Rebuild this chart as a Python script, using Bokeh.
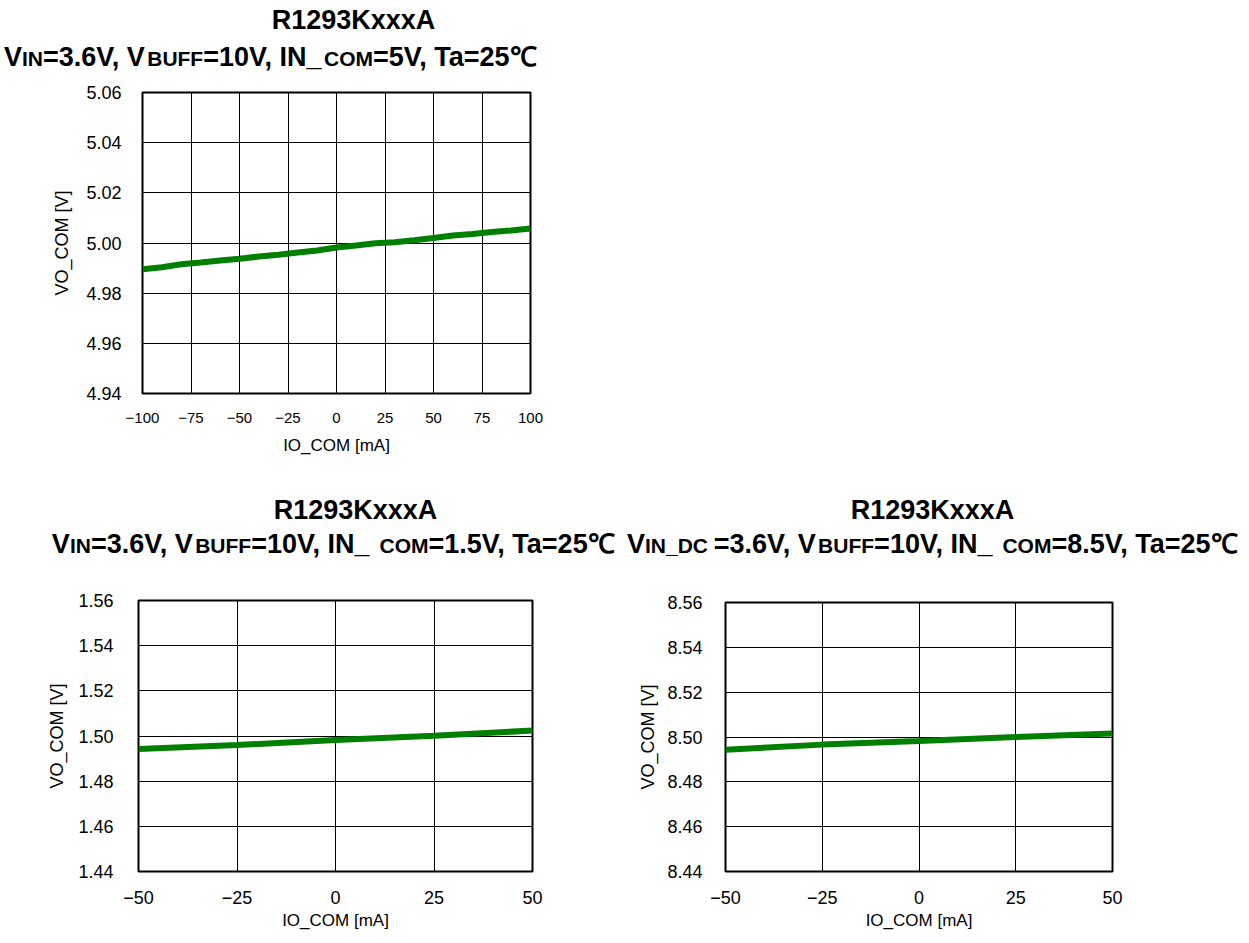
from bokeh.plotting import figure
from bokeh.models import Range1d, FixedTicker, ColumnDataSource
from bokeh.layouts import column, row
from bokeh.core.properties import value
from bokeh.embed import file_html
from bokeh.resources import INLINE

# ---------------- data ----------------
top_io = [-100, -90, -80, -70, -60, -50, -40, -30, -20, -10, 0, 10, 20, 30, 40, 50, 60, 70, 80, 90, 100]
top_vo = [4.9895, 4.9903, 4.9915, 4.9922, 4.9930, 4.9937, 4.9946, 4.9953, 4.9962, 4.9970, 4.9982,
          4.9990, 4.9999, 5.0003, 5.0011, 5.0020, 5.0030, 5.0036, 5.0044, 5.0050, 5.0058]

bl_io = [-50, -25, 0, 25, 50]
bl_vo = [1.4942, 1.4960, 1.4982, 1.5001, 1.5024]

br_io = [-50, -25, 0, 25, 50]
br_vo = [8.4943, 8.4966, 8.4982, 8.5000, 8.5016]

top_xticks = [-100, -75, -50, -25, 0, 25, 50, 75, 100]
top_xlabels = ["\u2212100", "\u221275", "\u221250", "\u221225", "0", "25", "50", "75", "100"]
top_yticks = [4.94, 4.96, 4.98, 5.00, 5.02, 5.04, 5.06]
top_ylabels = ["4.94", "4.96", "4.98", "5.00", "5.02", "5.04", "5.06"]

bot_xticks = [-50, -25, 0, 25, 50]
bot_xlabels = ["\u221250", "\u221225", "0", "25", "50"]
bl_yticks = [1.44, 1.46, 1.48, 1.50, 1.52, 1.54, 1.56]
bl_ylabels = ["1.44", "1.46", "1.48", "1.50", "1.52", "1.54", "1.56"]
br_yticks = [8.44, 8.46, 8.48, 8.50, 8.52, 8.54, 8.56]
br_ylabels = ["8.44", "8.46", "8.48", "8.50", "8.52", "8.54", "8.56"]

title_text = "R1293KxxxA"
# (text, is_small, extra gap after it in em of its size)
top_sub = [("V", 0), ("IN", 1), ("=3.6V, V", 0), ("BUFF", 1), ("=10V, IN_", 0), ("COM", 1), ("=5V, Ta=25\u2103", 0)]
bl_sub = [("V", 0), ("IN", 1), ("=3.6V, V", 0), ("BUFF", 1), ("=10V, IN_ ", 0), ("COM", 1), ("=1.5V, Ta=25\u2103", 0)]
br_sub = [("V", 0), ("IN_DC ", 1), ("=3.6V, V", 0), ("BUFF", 1), ("=10V, IN_ ", 0), ("COM", 1), ("=8.5V, Ta=25\u2103", 0)]

x_label = "IO_COM [mA]"
y_label = "VO_COM [V]"

GREEN = "#008000"
FONT = "Liberation Sans"

# Liberation Sans Bold advance widths (per em)
W = {' ': .278, ',': .278, '.': .278, '=': .584, '_': .556, 'A': .722, 'B': .722, 'C': .722,
     'D': .722, 'F': .611, 'I': .278, 'K': .722, 'M': .833, 'N': .722, 'O': .778, 'R': .722,
     'T': .611, 'U': .722, 'V': .667, 'a': .556, 'x': .556, '\u2103': 1.0}
MID = 0.3465  # distance (em) from baseline up to the middle of the em box


def tw(s, size):
    return sum(W.get(c, .556) for c in s) * size


def make_fig(xr, yr, fw, fh, bl, bt, br, bb, xt, xl, yt, yl, xs, ys, xtick_size, xlab_size,
             ylab_std, ylab_as, xlab_std, xlab_as):
    p = figure(frame_width=fw, frame_height=fh, x_range=Range1d(*xr), y_range=Range1d(*yr),
               output_backend="svg", toolbar_location=None,
               min_border_left=bl, min_border_top=bt, min_border_right=br, min_border_bottom=bb)
    p.background_fill_color = "white"
    p.border_fill_color = "white"
    p.outline_line_color = "black"
    p.outline_line_width = 2
    p.xaxis.ticker = FixedTicker(ticks=xt)
    p.yaxis.ticker = FixedTicker(ticks=yt)
    p.xgrid.ticker = FixedTicker(ticks=xt)
    p.ygrid.ticker = FixedTicker(ticks=yt)
    p.xaxis.major_label_overrides = {t: l for t, l in zip(xt, xl)}
    p.yaxis.major_label_overrides = {t: l for t, l in zip(yt, yl)}
    for g in (p.xgrid, p.ygrid):
        g.grid_line_color = "black"
        g.grid_line_width = 1
        g.grid_line_alpha = 1.0
    for ax in (p.xaxis, p.yaxis):
        ax.axis_line_color = None
        ax.major_tick_line_color = None
        ax.minor_tick_line_color = None
        ax.major_tick_out = 0
        ax.major_tick_in = 0
        ax.major_label_text_font = FONT
        ax.major_label_text_color = "black"
        ax.axis_label_text_font = FONT
        ax.axis_label_text_font_style = "normal"
        ax.axis_label_text_color = "black"
    p.xaxis.major_label_text_font_size = xtick_size
    p.yaxis.major_label_text_font_size = "18px"
    p.xaxis.axis_label = x_label
    p.yaxis.axis_label = y_label
    p.xaxis.axis_label_text_font_size = xlab_size
    p.yaxis.axis_label_text_font_size = "18px"
    p.yaxis.major_label_standoff = ylab_std
    p.yaxis.axis_label_standoff = ylab_as
    p.xaxis.major_label_standoff = xlab_std
    p.xaxis.axis_label_standoff = xlab_as
    p.line(xs, ys, line_color=GREEN, line_width=6)
    return p


def title_fig(width, height, title_center, title_base, sub, sub_center, sub_base, big, small, ts=27):
    # a bare canvas whose range is its own pixel grid, used only to hold the title texts
    t = figure(width=width, height=height, x_range=Range1d(0, width), y_range=Range1d(height, 0),
               output_backend="svg", toolbar_location=None, x_axis_location=None,
               y_axis_location=None, min_border=0)
    t.title = None
    t.outline_line_color = None
    t.xgrid.visible = False
    t.ygrid.visible = False
    t.background_fill_color = "white"
    t.border_fill_color = "white"
    xs, ys, txt, sizes = [], [], [], []
    w = tw(title_text, ts)
    xs.append(title_center - w / 2)
    ys.append(title_base - MID * ts)
    txt.append(title_text)
    sizes.append(f"{ts}px")
    total = sum(tw(s, small if sm else big) for s, sm in sub)
    x = sub_center - total / 2
    for s, sm in sub:
        size = small if sm else big
        xs.append(x)
        ys.append(sub_base - MID * size - (1 if sm else 0))
        txt.append(s.strip())
        sizes.append(f"{size}px")
        x += tw(s, size)
    src = ColumnDataSource(dict(x=xs, y=ys, text=txt, size=sizes))
    t.text(x="x", y="y", text="text", source=src, text_font=value(FONT), text_font_style="bold",
           text_font_size="size", text_align="left", text_baseline="middle", text_color="black")
    return t


# top block
t1 = title_fig(620, 75, 353, 29, top_sub, 272, 66, 27, 21)
p1 = make_fig((-100, 100), (4.94, 5.06), 388, 301, 142, 17, 90, 77,
              top_xticks, top_xlabels, top_yticks, top_ylabels, top_io, top_vo,
              "15px", "17px", 21, 11, 19, 10)

# bottom-left block
t2 = title_fig(620, 90, 355, 49, bl_sub, 335, 83, 27, 21)
p2 = make_fig((-50, 50), (1.44, 1.56), 394, 271, 138, 40, 88, 66,
              bot_xticks, bot_xlabels, bl_yticks, bl_ylabels, bl_io, bl_vo,
              "18px", "17px", 25, 8, 19, 4)

# bottom-right block
t3 = title_fig(628, 90, 312, 49, br_sub, 314, 83, 27, 21)
p3 = make_fig((-50, 50), (8.44, 8.56), 387, 269, 105, 42, 136, 66,
              bot_xticks, bot_xlabels, br_yticks, br_ylabels, br_io, br_vo,
              "18px", "17px", 23, 6, 19, 4)

# each plot wrapped in its own row so the title canvases keep their full-width frames
layout = column(row(t1), row(p1),
                row(column(row(t2), row(p2)), column(row(t3), row(p3))))
open("out.html", "w").write(file_html(layout, INLINE))
